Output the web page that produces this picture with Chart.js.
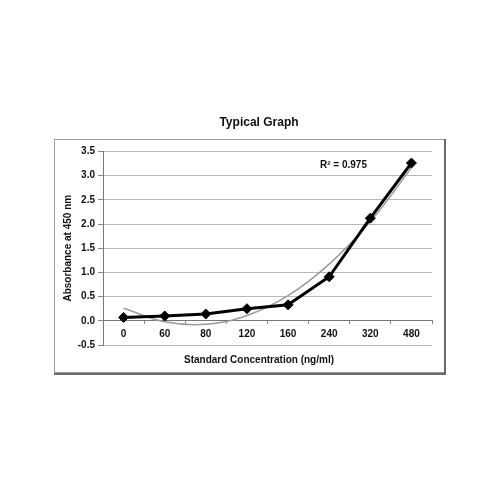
<!DOCTYPE html>
<html>
<head>
<meta charset="utf-8">
<script src="https://cdn.jsdelivr.net/npm/chart.js@4/dist/chart.umd.min.js"></script>
<style>
  html, body { margin: 0; padding: 0; background: #fff; }
  #wrap { width: 500px; height: 500px; }
</style>
</head>
<body>
<div id="wrap"><canvas id="line-chart" width="500" height="500"></canvas></div>
<script>
// standard curve
var concLabels = ['0', '60', '80', '120', '160', '240', '320', '480'];
var absorbance = [0.07, 0.10, 0.14, 0.25, 0.33, 0.91, 2.12, 3.26];
// grey polynomial trendline, read at each concentration
var trendline = [0.26, -0.02, -0.07, 0.11, 0.52, 1.17, 2.05, 3.16];
var yTicks = [-0.5, 0, 0.5, 1, 1.5, 2, 2.5, 3, 3.5];
var rSquared = 'R\u00b2 = 0.975';

var FONT = "'Liberation Sans', Arial, sans-serif";

// chart frame + R squared label
var framePlugin = {
  id: 'frame',
  beforeDraw: function(chart) {
    var ctx = chart.ctx;
    ctx.save();
    ctx.fillStyle = '#fff';
    ctx.fillRect(0, 0, chart.width, chart.height);
    ctx.strokeStyle = '#9a9a9a';
    ctx.lineWidth = 1;
    ctx.strokeRect(54.5, 139.5, 390, 233);
    ctx.strokeStyle = '#6a6a6a';
    ctx.lineWidth = 2;
    ctx.beginPath();
    ctx.moveTo(445, 139);
    ctx.lineTo(445, 374);
    ctx.lineTo(54, 374);
    ctx.stroke();
    ctx.restore();
  },
  afterDraw: function(chart) {
    var ctx = chart.ctx, a = chart.chartArea;
    ctx.save();
    ctx.font = 'bold 10px ' + FONT;
    ctx.fillStyle = '#111';
    ctx.textAlign = 'left';
    ctx.textBaseline = 'middle';
    ctx.fillText(rSquared, a.right - 112, a.top + 14);
    ctx.restore();
  }
};

new Chart(document.getElementById('line-chart'), {
  type: 'line',
  data: {
    labels: concLabels,
    datasets: [{
      label: 'Absorbance',
      data: absorbance,
      borderColor: '#000',
      backgroundColor: '#000',
      borderWidth: 3,
      pointStyle: 'rectRot',
      pointRadius: 5,
      pointBorderWidth: 1,
      tension: 0,
      fill: false,
      order: 1
    }, {
      label: 'Poly. trend',
      data: trendline,
      borderColor: '#9a9a9a',
      borderWidth: 1.5,
      pointRadius: 0,
      tension: 0.4,
      fill: false,
      order: 2
    }]
  },
  options: {
    responsive: false,
    animation: false,
    layout: { padding: { left: 77, right: 59, top: 115, bottom: 134 } },
    plugins: {
      legend: { display: false },
      tooltip: { enabled: false },
      title: {
        display: true,
        text: 'Typical Graph',
        color: '#111',
        font: { family: FONT, size: 12, weight: 'bold' },
        padding: { top: 0, bottom: 22 }
      },
      subtitle: {
        display: true,
        position: 'bottom',
        text: 'Standard Concentration (ng/ml)',
        color: '#111',
        font: { family: FONT, size: 10, weight: 'bold' },
        padding: { top: 9, bottom: 0 }
      }
    },
    scales: {
      x: {
        position: { y: 0 },
        offset: true,
        grid: {
          drawOnChartArea: false,
          drawTicks: true,
          tickLength: 3,
          tickColor: '#888',
          offset: true
        },
        border: { color: '#777', width: 1 },
        ticks: {
          color: '#111',
          padding: 4,
          font: { family: FONT, size: 10, weight: 'bold' }
        }
      },
      y: {
        min: -0.5,
        max: 3.5,
        afterFit: function(s) { s.width = 26; },
        afterBuildTicks: function(s) { s.ticks = yTicks.map(function(v) { return { value: v }; }); },
        grid: {
          color: '#b8b8b8',
          tickColor: '#888',
          tickLength: 5,
          lineWidth: 1
        },
        border: { color: '#777', width: 1 },
        ticks: {
          color: '#111',
          padding: 3,
          font: { family: FONT, size: 10, weight: 'bold' },
          callback: function(v) { return Number(v).toFixed(1); }
        },
        title: {
          display: true,
          text: 'Absorbance at 450 nm',
          color: '#111',
          font: { family: FONT, size: 10, weight: 'bold' },
          padding: { top: -15, bottom: 0 }
        }
      },
      // empty spacer on the right so the titles sit where the original has them
      yRight: {
        position: 'right',
        afterFit: function(s) { s.width = 9; },
        grid: { display: false, drawTicks: false },
        border: { display: false },
        ticks: { display: false }
      }
    }
  },
  plugins: [framePlugin]
});
</script>
</body>
</html>
